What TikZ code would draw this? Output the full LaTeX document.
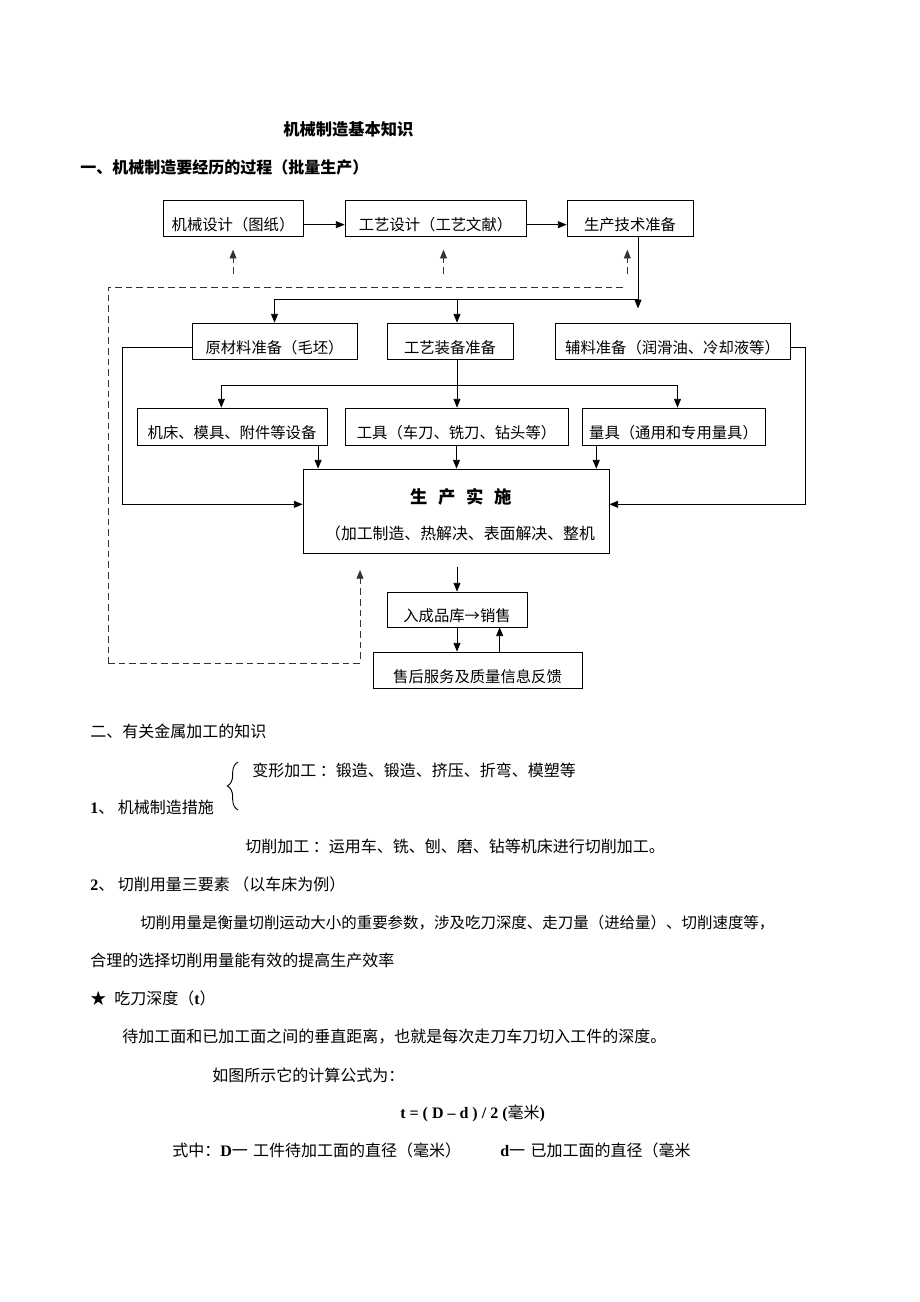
\documentclass[tikz,border=0pt]{standalone}
\usepackage{fontspec}
\setmainfont{Noto Sans CJK SC}
\newfontfamily\lat{Liberation Serif}
\usetikzlibrary{arrows.meta,decorations.pathreplacing}

\begin{document}
\begin{tikzpicture}[x=0.75pt,y=-0.75pt,
    box/.style={draw,line width=0.6pt,inner sep=0pt,text height=18pt,text depth=0pt,
        font=\fontsize{11.5}{12}\selectfont},
    lin/.style={line width=0.6pt},
    arr/.style={lin,-{Triangle[length=6.5pt,width=5.2pt]}},
    dsh/.style={lin,dash pattern=on 5pt off 3pt,black!80},
    darr/.style={dsh,-{Triangle[length=6.5pt,width=5.2pt]}},
    txt/.style={anchor=base west,inner sep=0pt,font=\fontsize{12}{14}\selectfont}]
                \useasboundingbox (0,0) rectangle (920,1302);
                \node[txt,font=\fontsize{12.2}{14}\selectfont\bfseries] (title) at (283,136) {机械制造基本知识};
                \node[txt,font=\fontsize{12}{14}\selectfont\bfseries] (h1) at (80,174) {一、机械制造要经历的过程（批量生产）};
                \node[box,minimum width=105pt,minimum height=27pt] (sj) at (233,218) {机械设计（图纸）};
                \node[box,minimum width=135.75pt,minimum height=27pt] (gy) at (435.5,218) {工艺设计（工艺文献）};
                \node[box,minimum width=94.5pt,minimum height=27pt] (zb) at (630,218) {生产技术准备};
                \node[box,minimum width=123.75pt,minimum height=27pt] (ycl) at (274.5,341) {原材料准备（毛坯）};
                \node[box,minimum width=94.5pt,minimum height=27pt] (gyzb) at (450,341) {工艺装备准备};
                \node[box,minimum width=176.25pt,minimum height=27pt] (fl) at (672.5,341) {辅料准备（润滑油、冷却液等）};
                \node[box,minimum width=142.5pt,minimum height=27.75pt] (jc) at (232,426.5) {机床、模具、附件等设备};
                \node[box,minimum width=167.25pt,minimum height=27.75pt] (gj) at (456.5,426.5) {工具（车刀、铣刀、钻头等）};
                \node[box,minimum width=137.25pt,minimum height=27.75pt] (lj) at (673.5,426.5) {量具（通用和专用量具）};
                \node[draw,lin,minimum width=229.5pt,minimum height=63pt] (sc) at (456,511) {};
                \node[font=\fontsize{13}{14}\selectfont\bfseries,inner sep=0pt] (sct) at (461,497) {生\hspace{8pt}产\hspace{8pt}实\hspace{8pt}施};
                \node[font=\fontsize{11.9}{14}\selectfont,inner sep=0pt] (scs) at (460,533) {（加工制造、热解决、表面解决、整机};
                \node[box,minimum width=105pt,minimum height=26.25pt] (rk) at (457,609.5) {入成品库→销售};
                \node[box,minimum width=156.75pt,minimum height=27pt] (sh) at (477.5,670) {售后服务及质量信息反馈};
                \draw[arr] ([yshift=-5pt]sj.east) -- ([yshift=-5pt]gy.west);
                \draw[arr] ([yshift=-5pt]gy.east) -- ([yshift=-5pt]zb.west);
                \draw[darr] ([yshift=-28pt]sj.south) -- ([yshift=-10pt]sj.south);
                \draw[darr] ([shift={(6pt,-28pt)}]gy.south) -- ([shift={(6pt,-10pt)}]gy.south);
                \draw[darr] ([shift={(-2pt,-28pt)}]zb.south) -- ([shift={(-2pt,-10pt)}]zb.south);
                \draw[arr] ([xshift=6pt]zb.south) -- ++(0,72);
                \coordinate (m1) at (638,299);
                \draw[arr] (m1) -| (ycl.north);
                \draw[arr] ([xshift=5.25pt]gyzb.north |- m1) -- ([xshift=5.25pt]gyzb.north);
                \coordinate (m2) at (457,385);
                \draw[lin] ([xshift=5.25pt]gyzb.south) -- (m2);
                \draw[arr] (m2) -| ([xshift=-8pt]jc.north);
                \draw[arr] (m2) -| ([xshift=3pt]lj.north);
                \draw[arr] (m2) -- (m2 |- gj.north);
                \draw[arr] ([xshift=-7pt]jc.south east) -- ([xshift=-7pt]jc.south east |- sc.north);
                \draw[arr] (gj.south) -- (gj.south |- sc.north);
                \draw[arr] ([xshift=11pt]lj.south west) -- ([xshift=11pt]lj.south west |- sc.north);
                \draw[arr] ([yshift=-5pt]ycl.west) -- ++(-69,0) |- ([yshift=5pt]sc.west);
                \draw[arr] ([yshift=-5pt]fl.east) -- ++(15,0) |- ([yshift=5pt]sc.east);
                \draw[arr] ([yshift=-10pt]sc.south -| rk.north) -- (rk.north);
                \draw[arr] (rk.south) -- (rk.south |- sh.north);
                \draw[arr] ([xshift=32pt]rk.south |- sh.north) -- ([xshift=32pt]rk.south);
                \coordinate (d1) at (623,287);
                \coordinate (d2) at (108,663);
                \coordinate (d3) at (360,570);
                \draw[dsh] (d1) -| (d2);
                \draw[darr] (d2) -| (d3);
                \node[txt] (h2) at (90,737) {二、有关金属加工的知识};
                \draw[line width=0.7pt,decorate,decoration={brace,amplitude=8pt}] (238,810) -- (238,762);
                \node[txt] (bx) at (252,776) {变形加工 ：锻造、锻造、挤压、折弯、模塑等};
                \node[txt] (p1) at (90,813) {{\lat\bfseries 1}、 机械制造措施};
                \node[txt] (qx) at (245,852) {切削加工 ：运用车、铣、刨、磨、钻等机床进行切削加工。};
                \node[txt] (p2) at (90,890) {{\lat\bfseries 2}、 切削用量三要素 （以车床为例）};
                \node[txt,font=\fontsize{11.6}{14}\selectfont] (l1) at (140,928) {切削用量是衡量切削运动大小的重要参数，涉及吃刀深度、走刀量（进给量）、切削速度等，};
                \node[txt] (l2) at (90,966) {合理的选择切削用量能有效的提高生产效率};
                \node[txt] (st) at (90,1004) {★\hspace{6pt}吃刀深度（{\lat\bfseries t}）};
                \node[txt] (l3) at (122,1042) {待加工面和已加工面之间的垂直距离，也就是每次走刀车刀切入工件的深度。};
                \node[txt] (l4) at (212,1081) {如图所示它的计算公式为：};
                \node[txt] (fm) at (400,1118) {{\lat\bfseries t = ( D – d ) / 2 (}毫米{\lat\bfseries )}};
                \node[txt] (l5) at (172,1156) {式中：{\lat\bfseries D}一\hspace{4pt}工件待加工面的直径（毫米）};
                \node[txt] (l6) at (500,1156) {{\lat\bfseries d}一\hspace{4pt}已加工面的直径（毫米};
            \end{tikzpicture}
\end{document}
